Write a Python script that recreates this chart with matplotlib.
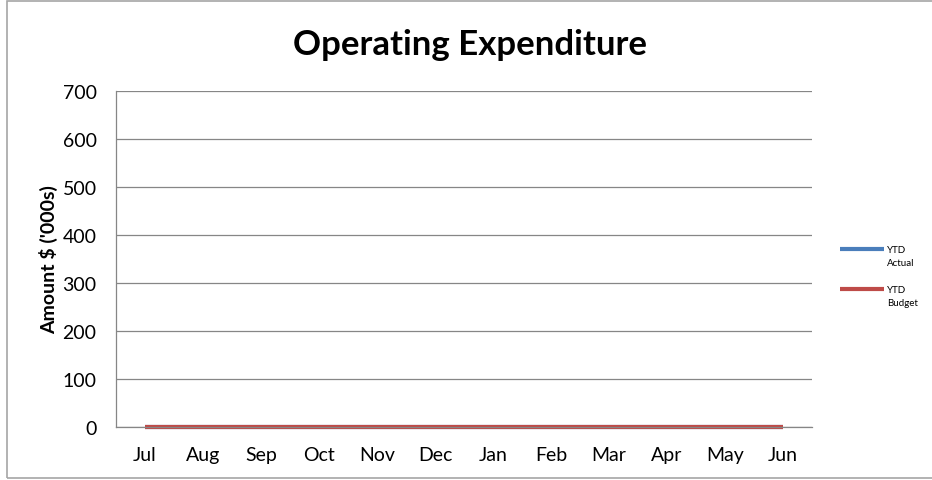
import matplotlib.pyplot as plt
from matplotlib import patches
from matplotlib.legend_handler import HandlerLine2D

months = ["Jul", "Aug", "Sep", "Oct", "Nov", "Dec", "Jan", "Feb", "Mar", "Apr", "May", "Jun"]
ytd_actual = [0, 0, 0, 0, 0, 0, 0, 0, 0, 0, 0, 0]
ytd_budget = [0, 0, 0, 0, 0, 0, 0, 0, 0, 0, 0, 0]
y_ticks = [0, 100, 200, 300, 400, 500, 600, 700]

plt.rcParams["font.family"] = ["Lato", "DejaVu Sans"]


class TopLineHandler(HandlerLine2D):
    # Excel puts the legend line next to the first line of a wrapped label
    def create_artists(self, legend, orig_handle, xdescent, ydescent,
                       width, height, fontsize, trans):
        arts = super().create_artists(legend, orig_handle, xdescent, ydescent,
                                      width, height, fontsize, trans)
        for a in arts:
            a.set_ydata([y + fontsize * 0.75 for y in a.get_ydata()])
        return arts


W, H = 932, 481
fig = plt.figure(figsize=(W / 100, H / 100), dpi=100)
ax = fig.add_axes([116 / W, 1 - 428 / H, (812 - 116) / W, (428 - 92) / H])

# outer chart border (right edge is cut off in the original)
fig.patches.append(patches.Rectangle((7 / W, 2 / H), 1.0, 1 - 4 / H,
                                     transform=fig.transFigure, fill=False,
                                     edgecolor="#a6a6a6", linewidth=1.2))

x = list(range(len(months)))
l1, = ax.plot(x, ytd_actual, color="#4a7ebb", linewidth=3, label="YTD\nActual",
              solid_capstyle="butt", clip_on=False)
l2, = ax.plot(x, ytd_budget, color="#be4b48", linewidth=3, label="YTD\nBudget",
              solid_capstyle="butt", clip_on=False)

ax.set_xlim(-0.5, len(months) - 0.5)
ax.set_ylim(0, 700)
ax.set_yticks(y_ticks)
ax.set_xticks(x)
ax.set_xticklabels(months)
ax.tick_params(length=0, labelsize=14)
ax.tick_params(axis="x", pad=14)
ax.tick_params(axis="y", pad=14)
ax.grid(axis="y", color="#868686", linewidth=0.9)
ax.set_axisbelow(True)
for side in ["top", "right"]:
    ax.spines[side].set_visible(False)
for side in ["left", "bottom"]:
    ax.spines[side].set_color("#868686")
    ax.spines[side].set_linewidth(0.9)

ax.set_ylabel("Amount $ ('000s)", fontsize=14, fontweight="bold", labelpad=3)
fig.text(470 / W, 1 - 45 / H, "Operating Expenditure", ha="center", va="center",
         fontsize=25, fontweight="bold")

leg = ax.legend(handles=[l1, l2], loc="center left",
                bbox_to_anchor=(1.028, 0.449), frameon=False,
                fontsize=7, handlelength=4.5, handletextpad=0.3,
                labelspacing=1.9,
                handler_map={l1: TopLineHandler(), l2: TopLineHandler()})
for t in leg.get_texts():
    t.set_linespacing(1.5)

fig.savefig("out.png", dpi=100)
